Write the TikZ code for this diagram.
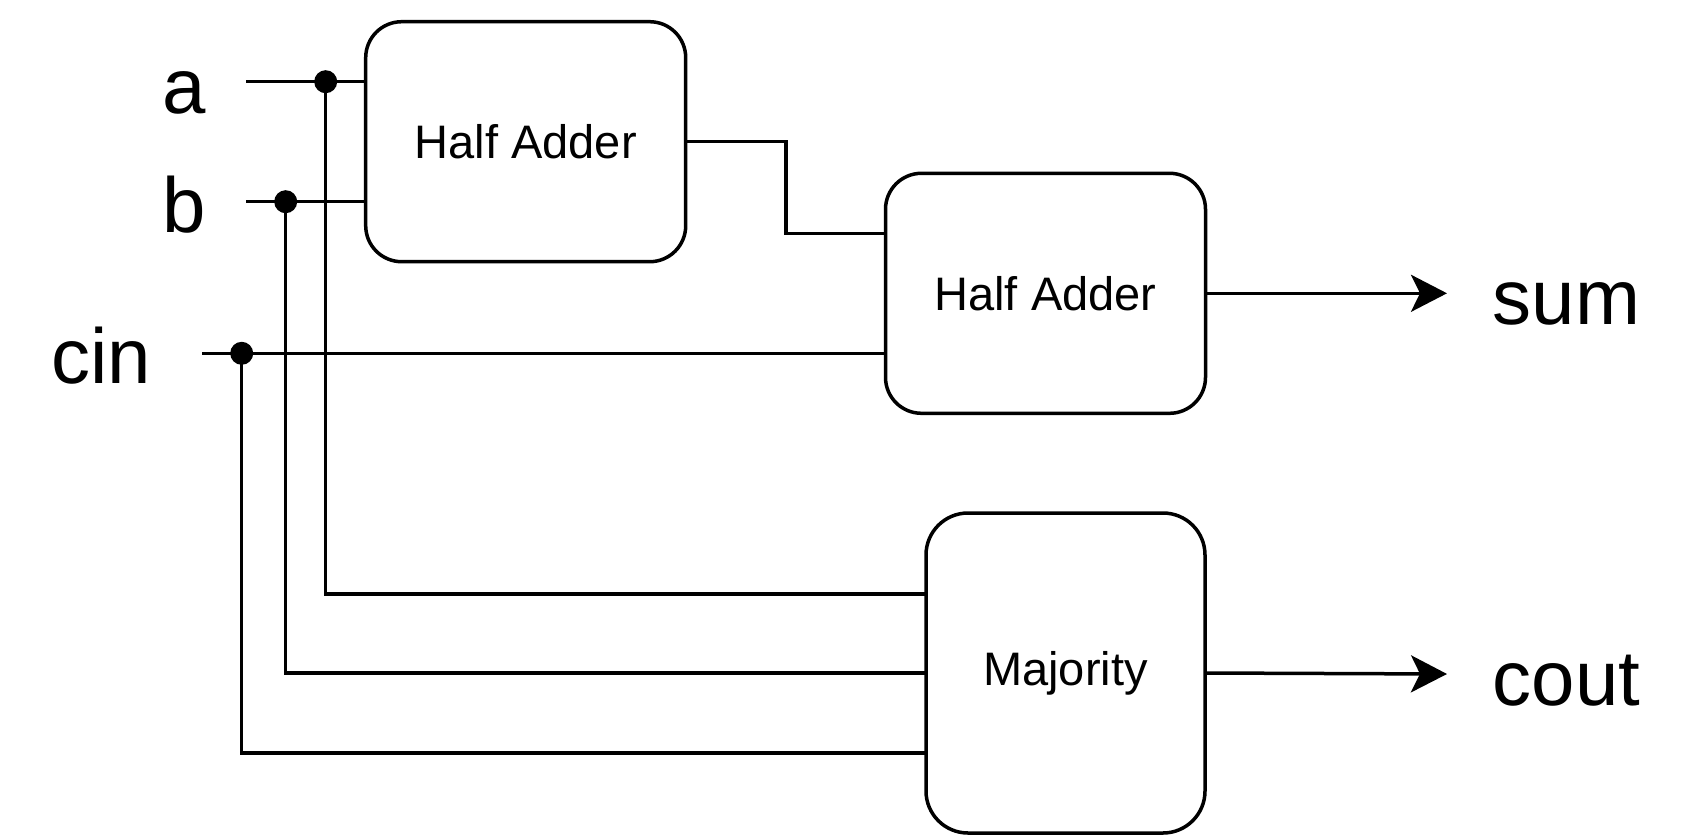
\documentclass[tikz,border=0pt]{standalone}
\usepackage{fontspec}
\setmainfont{Liberation Sans}
\usetikzlibrary{arrows.meta,calc}
\begin{document}
\begin{tikzpicture}[x=1pt,y=-1pt,line width=3.5pt,
  blockbox/.style={draw,rounded corners=36pt,inner sep=0pt,
    font=\fontsize{47}{50}\selectfont,align=center},
  biglabel/.style={inner sep=0pt,font=\fontsize{78}{80}\selectfont},
  junction/.style={circle,fill,inner sep=0pt,minimum size=23pt},
  outarrow/.style={-{Stealth[length=36pt,width=37pt,inset=9pt]}}]
\useasboundingbox (0,0) rectangle (1684,836);

% blocks
\node[blockbox,minimum width=320pt,minimum height=240pt] (ha1) at (525.7,141.7) {Half Adder};
\node[blockbox,minimum width=320pt,minimum height=240pt] (ha2) at (1045.5,293.3) {Half Adder};
\node[blockbox,rounded corners=42pt,minimum width=279pt,minimum height=320pt] (maj) at (1065.5,673) {Majority};

% labels
\node[biglabel,anchor=base east] (la) at (208,113.3) {a};
\node[biglabel,anchor=base east] (lb) at (208,232.7) {b};
\node[biglabel,anchor=base east] (lc) at (153,383.3) {cin};
\node[biglabel,anchor=base west] (ls) at (1491,324) {sum};
\node[biglabel,anchor=base west] (lo) at (1491,705) {cout};

% coordinates
\coordinate (ain) at (246,81.7);
\coordinate (bin) at (246,201.7);
\coordinate (cinl) at (202,353.3);
\coordinate (da) at (325.7,81.7);
\coordinate (db) at (285.7,201.7);
\coordinate (dc) at (241.7,353.3);
\coordinate (hbend) at (786,141.7);
\coordinate (h2a) at (885.5,233.3);
\coordinate (ma) at (926,594);
\coordinate (mb) at (926,673);
\coordinate (mc) at (926,753);
\coordinate (sumtip) at (1447,293.3);
\coordinate (couttip) at (1447,674);

% input wires
\draw (ain) -- (ain -| ha1.west);
\draw (bin) -- (bin -| ha1.west);
\draw (cinl) -- (cinl -| ha2.west);
\draw (da) |- (ma);
\draw (db) |- (mb);
\draw (dc) |- (mc);
\draw (ha1.east) -- (hbend) |- (h2a);

% junction dots
\node[junction] (ja) at (da) {};
\node[junction] (jb) at (db) {};
\node[junction] (jc) at (dc) {};

% outputs
\draw[outarrow] (ha2.east) -- (sumtip);
\draw[outarrow] (maj.east) -- (couttip);
\end{tikzpicture}
\end{document}
